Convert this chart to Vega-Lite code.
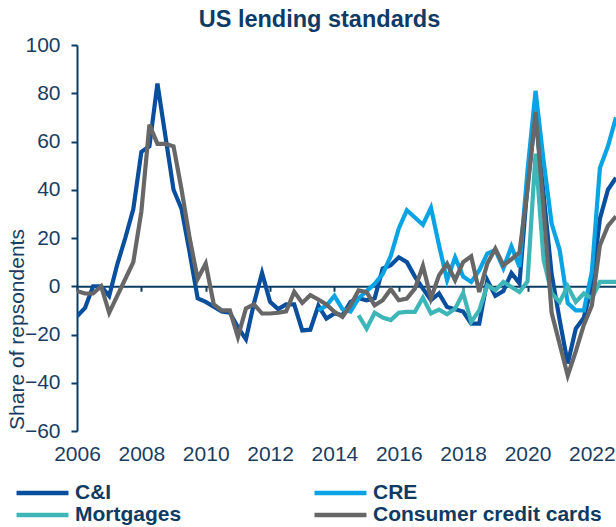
{
  "$schema": "https://vega.github.io/schema/vega-lite/v6.json",
  "autosize": "none",
  "width": 539,
  "height": 386,
  "padding": {"left": 77, "top": 45, "right": 0, "bottom": 96},
  "background": "white",
  "title": {"text": "US lending standards", "font": "Liberation Sans", "fontSize": 23.5, "fontWeight": "bold", "color": "#0d3b66", "anchor": "middle", "dx": -27, "offset": 3},
  "config": {"view": {"stroke": null}},
  "data": {"values": [
    {"s":"C&I","t":2006.0,"v":-12.5},{"s":"C&I","t":2006.25,"v":-9},{"s":"C&I","t":2006.5,"v":0},{"s":"C&I","t":2006.75,"v":0},
    {"s":"C&I","t":2007.0,"v":-4},{"s":"C&I","t":2007.25,"v":9},{"s":"C&I","t":2007.5,"v":20},{"s":"C&I","t":2007.75,"v":32},
    {"s":"C&I","t":2008.0,"v":55.7},{"s":"C&I","t":2008.25,"v":58},{"s":"C&I","t":2008.5,"v":84},{"s":"C&I","t":2008.75,"v":62},
    {"s":"C&I","t":2009.0,"v":40},{"s":"C&I","t":2009.25,"v":32},{"s":"C&I","t":2009.5,"v":14},{"s":"C&I","t":2009.75,"v":-5},
    {"s":"C&I","t":2010.0,"v":-6.5},{"s":"C&I","t":2010.25,"v":-8.5},{"s":"C&I","t":2010.5,"v":-10.5},{"s":"C&I","t":2010.75,"v":-11},
    {"s":"C&I","t":2011.0,"v":-17},{"s":"C&I","t":2011.25,"v":-22},{"s":"C&I","t":2011.5,"v":-7},{"s":"C&I","t":2011.75,"v":5.5},
    {"s":"C&I","t":2012.0,"v":-6.5},{"s":"C&I","t":2012.25,"v":-9.5},{"s":"C&I","t":2012.5,"v":-7.5},{"s":"C&I","t":2012.75,"v":-7.5},
    {"s":"C&I","t":2013.0,"v":-18.3},{"s":"C&I","t":2013.25,"v":-18},{"s":"C&I","t":2013.5,"v":-8},{"s":"C&I","t":2013.75,"v":-13.4},
    {"s":"C&I","t":2014.0,"v":-11.3},{"s":"C&I","t":2014.25,"v":-12},{"s":"C&I","t":2014.5,"v":-6.5},{"s":"C&I","t":2014.75,"v":-5},
    {"s":"C&I","t":2015.0,"v":-5.8},{"s":"C&I","t":2015.25,"v":-5},{"s":"C&I","t":2015.5,"v":7.3},{"s":"C&I","t":2015.75,"v":8.7},
    {"s":"C&I","t":2016.0,"v":12},{"s":"C&I","t":2016.25,"v":10},{"s":"C&I","t":2016.5,"v":4},{"s":"C&I","t":2016.75,"v":-1},
    {"s":"C&I","t":2017.0,"v":-5.8},{"s":"C&I","t":2017.25,"v":-3},{"s":"C&I","t":2017.5,"v":-8.6},{"s":"C&I","t":2017.75,"v":-9.5},
    {"s":"C&I","t":2018.0,"v":-10.5},{"s":"C&I","t":2018.25,"v":-15.5},{"s":"C&I","t":2018.5,"v":-15.5},{"s":"C&I","t":2018.75,"v":2.5},
    {"s":"C&I","t":2019.0,"v":-4},{"s":"C&I","t":2019.25,"v":-2},{"s":"C&I","t":2019.5,"v":5.5},{"s":"C&I","t":2019.75,"v":1.2},
    {"s":"C&I","t":2020.0,"v":42},{"s":"C&I","t":2020.25,"v":71},{"s":"C&I","t":2020.5,"v":38},{"s":"C&I","t":2020.75,"v":5},
    {"s":"C&I","t":2021.0,"v":-14},{"s":"C&I","t":2021.25,"v":-32},{"s":"C&I","t":2021.5,"v":-17.6},{"s":"C&I","t":2021.75,"v":-13},
    {"s":"C&I","t":2022.0,"v":0},{"s":"C&I","t":2022.25,"v":28},{"s":"C&I","t":2022.5,"v":40},{"s":"C&I","t":2022.75,"v":45},

    {"s":"CRE","t":2013.5,"v":-10},{"s":"CRE","t":2013.75,"v":-8},
    {"s":"CRE","t":2014.0,"v":-4},{"s":"CRE","t":2014.25,"v":-9.5},{"s":"CRE","t":2014.5,"v":-10.5},{"s":"CRE","t":2014.75,"v":-5},
    {"s":"CRE","t":2015.0,"v":-2},{"s":"CRE","t":2015.25,"v":1},{"s":"CRE","t":2015.5,"v":5},{"s":"CRE","t":2015.75,"v":12.5},
    {"s":"CRE","t":2016.0,"v":24},{"s":"CRE","t":2016.25,"v":31.5},{"s":"CRE","t":2016.5,"v":28.5},{"s":"CRE","t":2016.75,"v":25.5},
    {"s":"CRE","t":2017.0,"v":32.5},{"s":"CRE","t":2017.25,"v":17},{"s":"CRE","t":2017.5,"v":2.5},{"s":"CRE","t":2017.75,"v":12},
    {"s":"CRE","t":2018.0,"v":4},{"s":"CRE","t":2018.25,"v":1.8},{"s":"CRE","t":2018.5,"v":6.6},{"s":"CRE","t":2018.75,"v":13.5},
    {"s":"CRE","t":2019.0,"v":15},{"s":"CRE","t":2019.25,"v":7.5},{"s":"CRE","t":2019.5,"v":16.5},{"s":"CRE","t":2019.75,"v":8},
    {"s":"CRE","t":2020.0,"v":48},{"s":"CRE","t":2020.25,"v":81},{"s":"CRE","t":2020.5,"v":52},{"s":"CRE","t":2020.75,"v":26},
    {"s":"CRE","t":2021.0,"v":15},{"s":"CRE","t":2021.25,"v":-7},{"s":"CRE","t":2021.5,"v":-10},{"s":"CRE","t":2021.75,"v":-10},
    {"s":"CRE","t":2022.0,"v":6},{"s":"CRE","t":2022.25,"v":49},{"s":"CRE","t":2022.5,"v":58},{"s":"CRE","t":2022.75,"v":70},

    {"s":"Mortgages","t":2014.75,"v":-12},
    {"s":"Mortgages","t":2015.0,"v":-17.6},{"s":"Mortgages","t":2015.25,"v":-11},{"s":"Mortgages","t":2015.5,"v":-13},{"s":"Mortgages","t":2015.75,"v":-14},
    {"s":"Mortgages","t":2016.0,"v":-11},{"s":"Mortgages","t":2016.25,"v":-10.6},{"s":"Mortgages","t":2016.5,"v":-10.6},{"s":"Mortgages","t":2016.75,"v":-4.7},
    {"s":"Mortgages","t":2017.0,"v":-11.3},{"s":"Mortgages","t":2017.25,"v":-9.7},{"s":"Mortgages","t":2017.5,"v":-11.6},{"s":"Mortgages","t":2017.75,"v":-9.3},
    {"s":"Mortgages","t":2018.0,"v":-2.8},{"s":"Mortgages","t":2018.25,"v":-14.8},{"s":"Mortgages","t":2018.5,"v":-10},{"s":"Mortgages","t":2018.75,"v":0.4},
    {"s":"Mortgages","t":2019.0,"v":-1.7},{"s":"Mortgages","t":2019.25,"v":1.8},{"s":"Mortgages","t":2019.5,"v":-0.3},{"s":"Mortgages","t":2019.75,"v":-2.4},
    {"s":"Mortgages","t":2020.0,"v":2},{"s":"Mortgages","t":2020.25,"v":55},{"s":"Mortgages","t":2020.5,"v":11},{"s":"Mortgages","t":2020.75,"v":-3},
    {"s":"Mortgages","t":2021.0,"v":-6.5},{"s":"Mortgages","t":2021.25,"v":0},{"s":"Mortgages","t":2021.5,"v":-6.5},{"s":"Mortgages","t":2021.75,"v":-3},
    {"s":"Mortgages","t":2022.0,"v":-5},{"s":"Mortgages","t":2022.25,"v":1.8},{"s":"Mortgages","t":2022.5,"v":1.8},{"s":"Mortgages","t":2022.75,"v":1.8},

    {"s":"Consumer credit cards","t":2006.0,"v":-2},{"s":"Consumer credit cards","t":2006.25,"v":-3},{"s":"Consumer credit cards","t":2006.5,"v":-3},{"s":"Consumer credit cards","t":2006.75,"v":0},
    {"s":"Consumer credit cards","t":2007.0,"v":-11},{"s":"Consumer credit cards","t":2007.25,"v":-4},{"s":"Consumer credit cards","t":2007.5,"v":3},{"s":"Consumer credit cards","t":2007.75,"v":10},
    {"s":"Consumer credit cards","t":2008.0,"v":31},{"s":"Consumer credit cards","t":2008.25,"v":67},{"s":"Consumer credit cards","t":2008.5,"v":59},{"s":"Consumer credit cards","t":2008.75,"v":59},
    {"s":"Consumer credit cards","t":2009.0,"v":58},{"s":"Consumer credit cards","t":2009.25,"v":40},{"s":"Consumer credit cards","t":2009.5,"v":20},{"s":"Consumer credit cards","t":2009.75,"v":3},
    {"s":"Consumer credit cards","t":2010.0,"v":9.4},{"s":"Consumer credit cards","t":2010.25,"v":-7.5},{"s":"Consumer credit cards","t":2010.5,"v":-10},{"s":"Consumer credit cards","t":2010.75,"v":-10},
    {"s":"Consumer credit cards","t":2011.0,"v":-21},{"s":"Consumer credit cards","t":2011.25,"v":-9.2},{"s":"Consumer credit cards","t":2011.5,"v":-7.5},{"s":"Consumer credit cards","t":2011.75,"v":-11.3},
    {"s":"Consumer credit cards","t":2012.0,"v":-11.3},{"s":"Consumer credit cards","t":2012.25,"v":-11},{"s":"Consumer credit cards","t":2012.5,"v":-10.4},{"s":"Consumer credit cards","t":2012.75,"v":-2.3},
    {"s":"Consumer credit cards","t":2013.0,"v":-6.9},{"s":"Consumer credit cards","t":2013.25,"v":-3.7},{"s":"Consumer credit cards","t":2013.5,"v":-5.5},{"s":"Consumer credit cards","t":2013.75,"v":-7.5},
    {"s":"Consumer credit cards","t":2014.0,"v":-10.6},{"s":"Consumer credit cards","t":2014.25,"v":-12.7},{"s":"Consumer credit cards","t":2014.5,"v":-7.9},{"s":"Consumer credit cards","t":2014.75,"v":-1.7},
    {"s":"Consumer credit cards","t":2015.0,"v":-2.4},{"s":"Consumer credit cards","t":2015.25,"v":-7.9},{"s":"Consumer credit cards","t":2015.5,"v":-5.8},{"s":"Consumer credit cards","t":2015.75,"v":-1.2},
    {"s":"Consumer credit cards","t":2016.0,"v":-5.8},{"s":"Consumer credit cards","t":2016.25,"v":-5.1},{"s":"Consumer credit cards","t":2016.5,"v":-1},{"s":"Consumer credit cards","t":2016.75,"v":8.5},
    {"s":"Consumer credit cards","t":2017.0,"v":-5},{"s":"Consumer credit cards","t":2017.25,"v":4.5},{"s":"Consumer credit cards","t":2017.5,"v":9.4},{"s":"Consumer credit cards","t":2017.75,"v":2.5},
    {"s":"Consumer credit cards","t":2018.0,"v":10},{"s":"Consumer credit cards","t":2018.25,"v":12.4},{"s":"Consumer credit cards","t":2018.5,"v":-2.4},{"s":"Consumer credit cards","t":2018.75,"v":9.4},
    {"s":"Consumer credit cards","t":2019.0,"v":15.6},{"s":"Consumer credit cards","t":2019.25,"v":8.7},{"s":"Consumer credit cards","t":2019.5,"v":11.2},{"s":"Consumer credit cards","t":2019.75,"v":14},
    {"s":"Consumer credit cards","t":2020.0,"v":40},{"s":"Consumer credit cards","t":2020.25,"v":72.3},{"s":"Consumer credit cards","t":2020.5,"v":32},{"s":"Consumer credit cards","t":2020.75,"v":-11},
    {"s":"Consumer credit cards","t":2021.0,"v":-24},{"s":"Consumer credit cards","t":2021.25,"v":-37},{"s":"Consumer credit cards","t":2021.5,"v":-27},{"s":"Consumer credit cards","t":2021.75,"v":-16},
    {"s":"Consumer credit cards","t":2022.0,"v":-8},{"s":"Consumer credit cards","t":2022.25,"v":17},{"s":"Consumer credit cards","t":2022.5,"v":25},{"s":"Consumer credit cards","t":2022.75,"v":29}
  ]},
  "mark": {"type": "line", "strokeWidth": 4.2, "clip": true},
  "encoding": {
    "x": {"field": "t", "type": "quantitative",
      "scale": {"domain": [2006, 2022.75], "nice": false, "zero": false},
      "axis": {"values": [2006,2008,2010,2012,2014,2016,2018,2020,2022], "format": "d", "title": null, "grid": false,
        "labelFont": "Liberation Sans", "labelFontSize": 21, "labelColor": "#1a3d5f", "labelFlush": false, "labelOverlap": false,
        "domainColor": "#0c3c62", "domainWidth": 2, "tickColor": "#0c3c62", "tickWidth": 2, "tickSize": 5,
        "offset": -144.75, "labelPadding": 152}},
    "y": {"field": "v", "type": "quantitative",
      "scale": {"domain": [-60, 100], "nice": false, "zero": false},
      "axis": {"values": [-60,-40,-20,0,20,40,60,80,100], "grid": false, "title": "Share of repsondents",
        "labelFont": "Liberation Sans", "labelFontSize": 21, "labelColor": "#1a3d5f", "labelPadding": 11,
        "domainColor": "#0c3c62", "domainWidth": 2, "tickColor": "#0c3c62", "tickWidth": 2, "tickSize": 6,
        "titleFont": "Liberation Sans", "titleFontSize": 21, "titleFontWeight": "normal", "titleColor": "#1a3d5f",
        "titleAngle": 270, "titleX": -60, "titleY": 284, "titleAlign": "center", "titleBaseline": "middle"}},
    "color": {"field": "s", "type": "nominal",
      "scale": {"domain": ["C&I", "CRE", "Mortgages", "Consumer credit cards"], "range": ["#0a4f9e", "#0aa3e3", "#3eb6b8", "#676767"]},
      "legend": {"title": null, "orient": "none", "direction": "horizontal", "legendX": -63, "legendY": 437.5, "columns": 2, "columnPadding": 130, "rowPadding": 0,
        "clipHeight": 21,
        "symbolType": "stroke", "symbolSize": 2700, "symbolStrokeWidth": 4.5, "labelOffset": 4,
        "labelFont": "Liberation Sans", "labelFontSize": 21, "labelFontWeight": "bold", "labelColor": "#0f3b63", "labelLimit": 400}}
  }
}
